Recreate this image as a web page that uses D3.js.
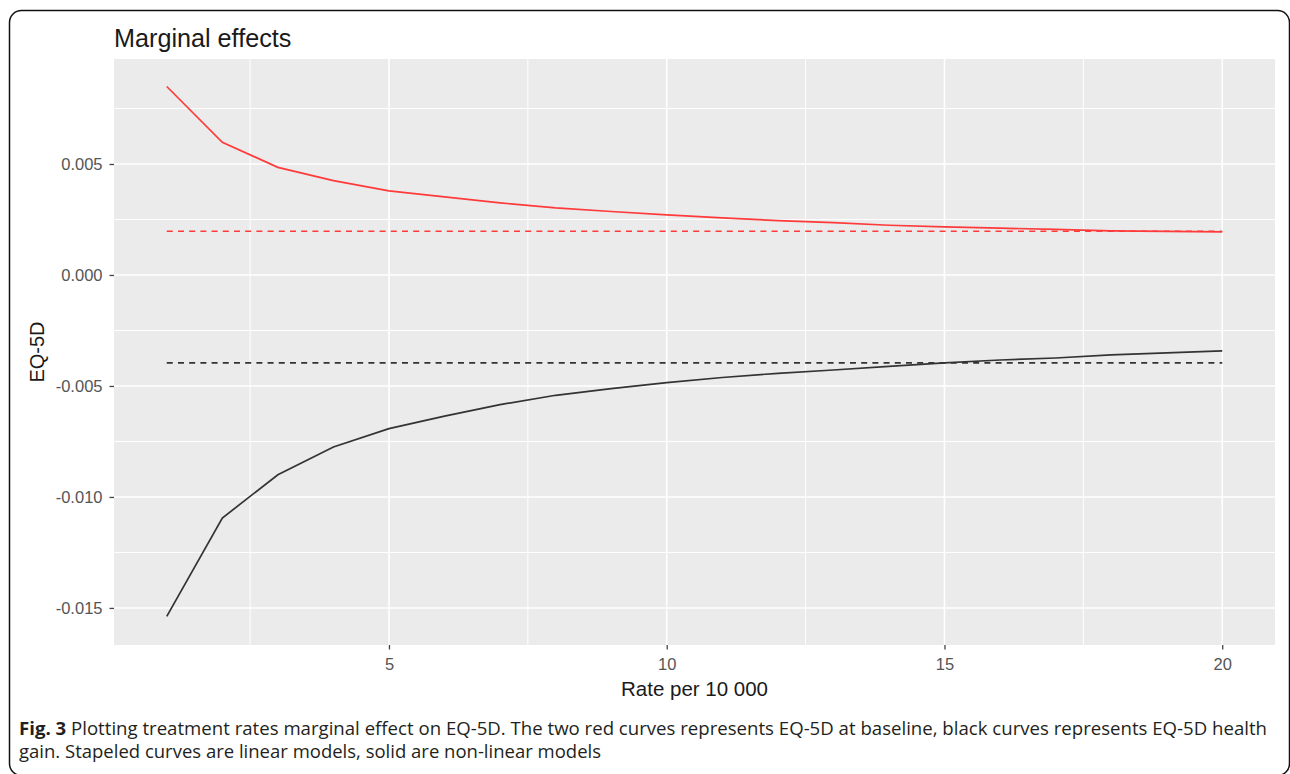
<!DOCTYPE html>
<html>
<head>
<meta charset="utf-8">
<script src="https://cdn.jsdelivr.net/npm/d3@7/dist/d3.min.js"></script>
<style>
  html, body { margin: 0; padding: 0; background: #ffffff; }
  svg { display: block; }
</style>
</head>
<body>
<svg id="chart" width="1290" height="774"></svg>
<script>
// ---- data ----
const rate = [1, 2, 3, 4, 5, 6, 7, 8, 9, 10, 11, 12, 13, 14, 15, 16, 17, 18, 19, 20];

// EQ-5D at baseline, non-linear model (red solid)
const baselineNonLinear = [0.00849, 0.00598, 0.00485, 0.00425, 0.00379, 0.00352, 0.00325, 0.00302, 0.00286, 0.00271,
                           0.00257, 0.00245, 0.00236, 0.00224, 0.00217, 0.00211, 0.00205, 0.00199, 0.00196, 0.00194];
// EQ-5D at baseline, linear model (red dashed)
const baselineLinear = [0.00197, 0.00197, 0.00197, 0.00197, 0.00197, 0.00197, 0.00197, 0.00197, 0.00197, 0.00197,
                        0.00197, 0.00197, 0.00197, 0.00197, 0.00197, 0.00197, 0.00197, 0.00197, 0.00197, 0.00197];
// EQ-5D health gain, non-linear model (black solid)
const gainNonLinear = [-0.01538, -0.01095, -0.00900, -0.00775, -0.00692, -0.00636, -0.00584, -0.00542, -0.00512, -0.00485,
                       -0.00462, -0.00443, -0.00428, -0.00412, -0.00396, -0.00383, -0.00374, -0.00360, -0.00351, -0.00342];
// EQ-5D health gain, linear model (black dashed)
const gainLinear = [-0.00396, -0.00396, -0.00396, -0.00396, -0.00396, -0.00396, -0.00396, -0.00396, -0.00396, -0.00396,
                    -0.00396, -0.00396, -0.00396, -0.00396, -0.00396, -0.00396, -0.00396, -0.00396, -0.00396, -0.00396];

const xTicks = [5, 10, 15, 20];
const xMinor = [2.5, 7.5, 12.5, 17.5];
const yTicks = [0.005, 0.000, -0.005, -0.010, -0.015];
const yMinor = [0.0075, 0.0025, -0.0025, -0.0075, -0.0125];

const titleText = "Marginal effects";
const xTitle = "Rate per 10 000";
const yTitle = "EQ-5D";
const captionBold = "Fig. 3";
const captionLine1 = " Plotting treatment rates marginal effect on EQ-5D. The two red curves represents EQ-5D at baseline, black curves represents EQ-5D health";
const captionLine2 = "gain. Stapeled curves are linear models, solid are non-linear models";

// ---- layout ----
const svg = d3.select("#chart");
const panel = { left: 114, right: 1275, top: 59, bottom: 645 };

// frame
svg.append("rect")
  .attr("x", 9.5).attr("y", 10.5)
  .attr("width", 1280).attr("height", 765)
  .attr("rx", 12).attr("ry", 12)
  .attr("fill", "none").attr("stroke", "#111").attr("stroke-width", 1.5);

const x = d3.scaleLinear().domain([0.05, 20.95]).range([panel.left, panel.right]);
const y = d3.scaleLinear().domain([-0.01667, 0.00973]).range([panel.bottom, panel.top]);

// panel background
svg.append("rect")
  .attr("x", panel.left).attr("y", panel.top)
  .attr("width", panel.right - panel.left).attr("height", panel.bottom - panel.top)
  .attr("fill", "#EBEBEB");

const grid = svg.append("g");
// minor grid
grid.selectAll(".ymin").data(yMinor).join("line")
  .attr("x1", panel.left).attr("x2", panel.right)
  .attr("y1", d => y(d)).attr("y2", d => y(d))
  .attr("stroke", "#fff").attr("stroke-width", 1);
grid.selectAll(".xmin").data(xMinor).join("line")
  .attr("y1", panel.top).attr("y2", panel.bottom)
  .attr("x1", d => x(d)).attr("x2", d => x(d))
  .attr("stroke", "#fff").attr("stroke-width", 1);
// major grid
grid.selectAll(".ymaj").data(yTicks).join("line")
  .attr("x1", panel.left).attr("x2", panel.right)
  .attr("y1", d => y(d)).attr("y2", d => y(d))
  .attr("stroke", "#fff").attr("stroke-width", 1.6);
grid.selectAll(".xmaj").data(xTicks).join("line")
  .attr("y1", panel.top).attr("y2", panel.bottom)
  .attr("x1", d => x(d)).attr("x2", d => x(d))
  .attr("stroke", "#fff").attr("stroke-width", 1.6);

// lines
const line = d3.line().x(d => x(d[0])).y(d => y(d[1]));
const series = [
  { vals: baselineLinear, color: "#ff3a3a", dash: "6,5.2" },
  { vals: gainLinear, color: "#333333", dash: "6,5.2" },
  { vals: baselineNonLinear, color: "#ff3a3a", dash: null },
  { vals: gainNonLinear, color: "#333333", dash: null }
];
series.forEach(s => {
  svg.append("path")
    .datum(rate.map((r, i) => [r, s.vals[i]]))
    .attr("d", line)
    .attr("fill", "none")
    .attr("stroke", s.color)
    .attr("stroke-width", 1.7)
    .attr("stroke-dasharray", s.dash);
});

// axes
const axisFont = "'Liberation Sans', Arial, sans-serif";
const xAxis = svg.append("g")
  .attr("transform", `translate(0,${panel.bottom})`)
  .call(d3.axisBottom(x).tickValues(xTicks).tickFormat(d => String(d)).tickSize(4.5).tickPadding(5));
const yAxis = svg.append("g")
  .attr("transform", `translate(${panel.left},0)`)
  .call(d3.axisLeft(y).tickValues(yTicks).tickFormat(d => d.toFixed(3)).tickSize(4.5).tickPadding(7));
[xAxis, yAxis].forEach(a => {
  a.select(".domain").remove();
  a.selectAll(".tick line").attr("stroke", "#444").attr("stroke-width", 1.3);
  a.selectAll(".tick text")
    .attr("fill", "#555")
    .style("font-family", axisFont)
    .style("font-size", "16.5px");
});
xAxis.selectAll(".tick text").attr("dy", "0.95em");
yAxis.selectAll(".tick text").attr("dy", "0.35em");

// titles
svg.append("text")
  .attr("x", panel.left).attr("y", 47)
  .style("font-family", axisFont).style("font-size", "25.2px")
  .attr("fill", "#1a1a1a")
  .text(titleText);

svg.append("text")
  .attr("x", (panel.left + panel.right) / 2).attr("y", 696)
  .attr("text-anchor", "middle")
  .style("font-family", axisFont).style("font-size", "20.5px")
  .attr("fill", "#1a1a1a")
  .text(xTitle);

svg.append("text")
  .attr("transform", `translate(44,${(panel.top + panel.bottom) / 2}) rotate(-90)`)
  .attr("text-anchor", "middle")
  .style("font-family", axisFont).style("font-size", "20px")
  .attr("fill", "#1a1a1a")
  .text(yTitle);

// caption
const capFont = "'Open Sans', 'Noto Sans', sans-serif";
const c1 = svg.append("text")
  .attr("x", 19).attr("y", 735)
  .style("font-family", capFont).style("font-size", "17.5px")
  .attr("fill", "#231f20")
  .attr("textLength", 1248).attr("lengthAdjust", "spacingAndGlyphs");
c1.append("tspan").style("font-weight", "bold").text(captionBold);
c1.append("tspan").text(captionLine1);

svg.append("text")
  .attr("x", 19).attr("y", 758)
  .style("font-family", capFont).style("font-size", "17.5px")
  .attr("fill", "#231f20")
  .attr("textLength", 582).attr("lengthAdjust", "spacingAndGlyphs")
  .text(captionLine2);
</script>
</body>
</html>
